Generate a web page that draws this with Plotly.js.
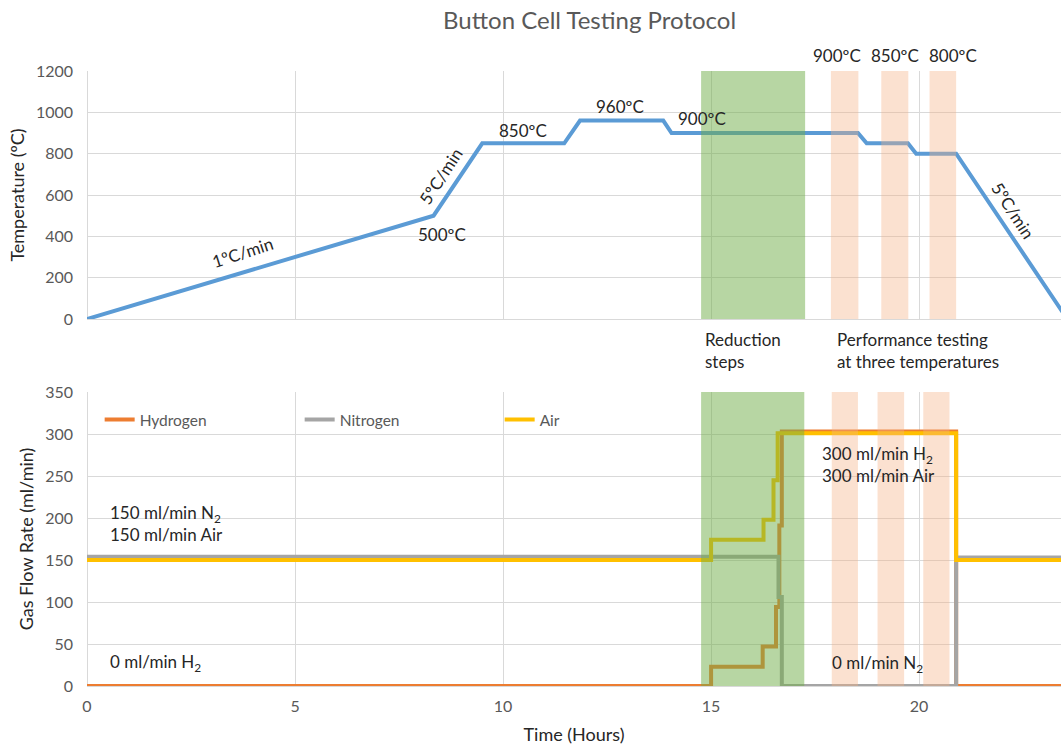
<!DOCTYPE html>
<html>
<head>
<meta charset="utf-8">
<script src="https://cdn.plot.ly/plotly-3.0.1.min.js"></script>
<style>html,body{margin:0;padding:0;background:#fff}#chart{width:1061px;height:747px}</style>
</head>
<body>
<div id="chart"></div>
<script>
// ---- Temperature profile (top panel) ----
const tempHours  = [0, 8.33, 9.5, 11.47, 11.85, 13.85, 14.05, 18.53, 18.74, 19.73, 19.93, 20.89, 23.56];
const tempValues = [0, 500, 850, 850, 960, 960, 900, 900, 850, 850, 800, 800, 0];

// ---- Gas flow rates (bottom panel), step series ----
const h2Hours  = [0, 15.0, 16.24, 16.56, 16.64, 16.7, 20.89, 23.41];
const h2Values = [0, 23, 47, 94, 191, 303, 0, 0];
const n2Hours  = [0, 16.62, 16.7, 20.89, 23.41];
const n2Values = [154, 106, 0, 153, 153];
const airHours  = [0, 15.0, 16.26, 16.5, 16.6, 20.89, 23.41];
const airValues = [150, 174, 198, 245, 301, 150, 150];

const seriesNames = ["Hydrogen", "Nitrogen", "Air"];
const xTicks = [0, 5, 10, 15, 20];

// ---- Highlighted periods (hours) ----
const reductionBand = [14.76, 17.26];
const perfBandsTop = [[17.88, 18.54], [19.09, 19.74], [20.25, 20.89]];
const perfBandsBottom = [[17.9, 18.53], [19.0, 19.64], [20.1, 20.73]];

const FONT = "Lato, 'Open Sans', sans-serif";
const TXT = "#595959";
const DARK = "#262626";
const GRID = "#d9d9d9";

const traces = [
  {x: tempHours, y: tempValues, xaxis: "x", yaxis: "y", mode: "lines", showlegend: false,
   line: {color: "#5B9BD5", width: 4}},
  {x: h2Hours, y: h2Values, xaxis: "x2", yaxis: "y2", mode: "lines", name: seriesNames[0],
   line: {color: "#ED7D31", width: 4, shape: "hv"}},
  {x: n2Hours, y: n2Values, xaxis: "x2", yaxis: "y2", mode: "lines", name: seriesNames[1],
   line: {color: "#A5A5A5", width: 4, shape: "hv"}},
  {x: airHours, y: airValues, xaxis: "x2", yaxis: "y2", mode: "lines", name: seriesNames[2],
   line: {color: "#FFC000", width: 4, shape: "hv"}}
];

const shapes = [];
function band(xr, x0, x1, yr, color, op) {
  shapes.push({type: "rect", xref: xr, yref: yr, x0: x0, x1: x1, y0: 0, y1: 1,
    fillcolor: color, opacity: op, line: {width: 0}, layer: "above"});
}
band("x", reductionBand[0], reductionBand[1], "y domain", "rgb(112,173,71)", 0.5);
band("x2", reductionBand[0], reductionBand[1] - 0.02, "y2 domain", "rgb(112,173,71)", 0.5);
perfBandsTop.forEach(b => band("x", b[0], b[1], "y domain", "rgb(244,177,131)", 0.38));
perfBandsBottom.forEach(b => band("x2", b[0], b[1], "y2 domain", "rgb(244,177,131)", 0.38));

function ann(xr, yr, x, y, text, extra) {
  return Object.assign({xref: xr, yref: yr, x: x, y: y, text: text, showarrow: false,
    font: {family: FONT, size: 17, color: DARK}}, extra || {});
}

const annotations = [
  ann("x", "y", 3.73, 324, "1ºC/min", {textangle: -18}),
  ann("x", "y", 8.49, 692, "5ºC/min", {textangle: -57}),
  ann("x", "y", 8.53, 411, "500ºC"),
  ann("x", "y", 10.48, 914, "850ºC"),
  ann("x", "y", 12.81, 1026, "960ºC"),
  ann("x", "y", 14.78, 968, "900ºC"),
  ann("x", "y", 22.26, 527, "5ºC/min", {textangle: 57}),
  ann("x", "paper", 18.03, 1.0, "900ºC", {yanchor: "bottom", yshift: 3}),
  ann("x", "paper", 19.42, 1.0, "850ºC", {yanchor: "bottom", yshift: 3}),
  ann("x", "paper", 20.82, 1.0, "800ºC", {yanchor: "bottom", yshift: 3}),
  ann("x", "paper", 14.81, 0.545, "Reduction<br>steps", {xanchor: "left", align: "left"}),
  ann("x", "paper", 17.99, 0.545, "Performance testing<br>at three temperatures", {xanchor: "left", align: "left"}),
  ann("x2", "y2", 0.5, 193, "150 ml/min N<sub>2</sub><br>150 ml/min Air", {xanchor: "left", align: "left"}),
  ann("x2", "y2", 0.5, 27, "0 ml/min H<sub>2</sub>", {xanchor: "left", align: "left"}),
  ann("x2", "y2", 17.62, 264, "300 ml/min H<sub>2</sub><br>300 ml/min Air", {xanchor: "left", align: "left"}),
  ann("x2", "y2", 17.86, 26, "0 ml/min N<sub>2</sub>", {xanchor: "left", align: "left"})
];

const axisCommon = {
  showgrid: true, gridcolor: GRID, gridwidth: 1,
  zeroline: true, zerolinecolor: GRID, zerolinewidth: 1,
  showline: false, ticks: "",
  tickfont: {family: FONT, size: 16, color: TXT}
};
const titleFont = {family: FONT, size: 18, color: DARK};

const layout = {
  width: 1061, height: 747,
  margin: {l: 87, r: 0, t: 71, b: 61},
  paper_bgcolor: "#fff", plot_bgcolor: "#fff",
  font: {family: FONT, color: TXT},
  title: {text: "Button Cell Testing Protocol", x: 0.516, xref: "paper", xanchor: "center",
          y: 0.973, yref: "container", yanchor: "middle",
          font: {family: FONT, size: 24, color: TXT}},
  xaxis: Object.assign({}, axisCommon, {domain: [0, 1], anchor: "y", range: [0, 23.41],
          tickvals: xTicks, showticklabels: false}),
  yaxis: Object.assign({}, axisCommon, {domain: [0.5967, 1], anchor: "x", range: [0, 1200],
          dtick: 200, ticklabelstandoff: 13,
          title: {text: "Temperature (ºC)", standoff: 6, font: titleFont}}),
  xaxis2: Object.assign({}, axisCommon, {domain: [0, 1], anchor: "y2", range: [0, 23.41],
          tickvals: xTicks, ticklabelstandoff: 9,
          title: {text: "Time (Hours)", standoff: 14, font: titleFont}}),
  yaxis2: Object.assign({}, axisCommon, {domain: [0, 0.478], anchor: "x2", range: [0, 350],
          dtick: 50, ticklabelstandoff: 13,
          title: {text: "Gas Flow Rate (ml/min)", standoff: 6, font: titleFont}}),
  showlegend: true,
  legend: {orientation: "h", x: 0.013, xanchor: "left", y: 0.4325, yanchor: "middle",
           bgcolor: "rgba(0,0,0,0)", entrywidth: 155, entrywidthmode: "pixels",
           font: {family: FONT, size: 15.5, color: TXT}, itemclick: false},
  shapes: shapes,
  annotations: annotations
};

Plotly.newPlot("chart", traces, layout, {displayModeBar: false, staticPlot: true});
</script>
</body>
</html>
